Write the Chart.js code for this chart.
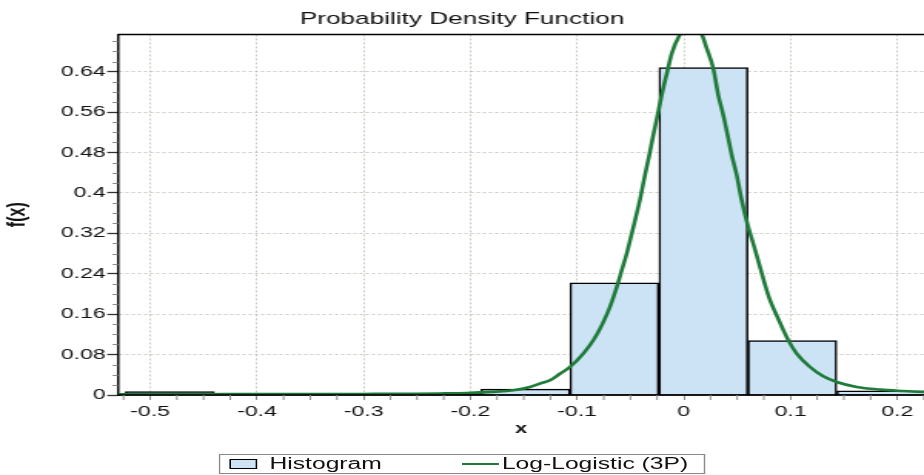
<!DOCTYPE html>
<html>
<head>
<title>Probability Density Function</title>
<script src="https://cdn.jsdelivr.net/npm/chart.js@4"></script>
<style>
  html, body { margin: 0; padding: 0; background: #fff; overflow: hidden; }
  /* the reference is drawn narrow and stretched sideways, so do the same */
  #wrap { position: relative; width: 600px; height: 475px; transform: scaleX(1.54); transform-origin: 0 0; }
  #legend { position: absolute; left: 142px; top: 454px; width: 316px; height: 20px; box-sizing: border-box;
            border: 1px solid #8a8a8a; display: flex; align-items: center; padding-left: 6px;
            font: 16px "Liberation Sans", Arial, sans-serif; color: #111; white-space: nowrap; }
  #legend .item { display: flex; align-items: center; }
  #legend .item + .item { margin-left: 52px; }
</style>
</head>
<body>
<div id="wrap">
    <canvas id="pdf" width="600" height="475"></canvas>
    <div id="legend"></div>
</div>
<script>
    const FONT = '"Liberation Sans", Arial, sans-serif';

    // histogram: bin centres (bin width 0.0833) and heights
    const binCenters = [-0.4816, -0.3983, -0.3149, -0.2316, -0.1483, -0.0650, 0.0184, 0.1017, 0.1851];
    const histValues = [0.0069, 0, 0, 0, 0.0115, 0.222, 0.648, 0.1078, 0.0082];

    // fitted Log-Logistic (3P) curve
    const curveX = [-0.530, -0.45, -0.37, -0.30, -0.25, -0.2285, -0.2035, -0.180, -0.1598, -0.1441,
                    -0.1348, -0.1254, -0.1160, -0.1067, -0.0942, -0.0848, -0.0769, -0.0692, -0.0623, -0.0582,
                    -0.0535, -0.0488, -0.0457, -0.0410, -0.0364, -0.0323, -0.0286, -0.0239, -0.0207, -0.0155,
                    -0.0113, -0.0036, 0.0060, 0.0168, 0.0215, 0.0276, 0.0323, 0.0370, 0.0417, 0.0449,
                    0.0496, 0.0540, 0.0604, 0.0651, 0.0714, 0.0799, 0.0883, 0.0980, 0.1058, 0.1183,
                    0.1307, 0.1433, 0.1620, 0.1839, 0.2057, 0.2251];
    const curveY = [0.0015, 0.0016, 0.0018, 0.0021, 0.0025, 0.0030, 0.0040, 0.0062, 0.0093, 0.0158,
                    0.0226, 0.0291, 0.0420, 0.0554, 0.0819, 0.1082, 0.1379, 0.1741, 0.2171, 0.2467,
                    0.2798, 0.3193, 0.3457, 0.3872, 0.4353, 0.4749, 0.5144, 0.5607, 0.5936, 0.6399,
                    0.6761, 0.7137, 0.740, 0.7137, 0.686, 0.6464, 0.5936, 0.554, 0.5079, 0.4749,
                    0.4353, 0.388, 0.3324, 0.2996, 0.2533, 0.193, 0.1518, 0.1082, 0.0819, 0.0554,
                    0.0370, 0.0257, 0.0158, 0.0107, 0.0079, 0.0059];

    const xTicks = [-0.5, -0.4, -0.3, -0.2, -0.1, 0, 0.1, 0.2];
    const yTicks = [0, 0.08, 0.16, 0.24, 0.32, 0.4, 0.48, 0.56, 0.64];
    const xRange = [-0.5302, 0.2251];
    const yRange = [0, 0.7137];
    const xMinorStep = 0.025, yMinorStep = 0.02;

    const gridColor = 'rgba(185,180,170,0.7)';

    // top frame line, bottom axis redrawn over the bars, minor tick marks
    const frame = {
        id: 'frame',
        afterDatasetsDraw(chart) {
            const { ctx, chartArea: a } = chart;
            ctx.save();
            ctx.strokeStyle = '#000';
            ctx.lineWidth = 1.5;
            ctx.beginPath();
            ctx.moveTo(a.left, a.top); ctx.lineTo(a.right, a.top);
            ctx.moveTo(a.left, a.bottom); ctx.lineTo(a.right, a.bottom);
            ctx.stroke();
            ctx.restore();
        },
        afterDraw(chart) {
            const { ctx, chartArea: a, scales: { x, y } } = chart;
            ctx.save();
            ctx.strokeStyle = '#8c8c8c';
            ctx.lineWidth = 1;
            ctx.beginPath();
            for (let i = 1; i * yMinorStep <= y.max; i++) {
                if (i % 4 === 0) continue;
                const py = Math.round(y.getPixelForValue(i * yMinorStep)) + 0.5;
                ctx.moveTo(a.left - 3.5, py); ctx.lineTo(a.left, py);
            }
            for (let i = Math.ceil(x.min / xMinorStep); i * xMinorStep <= x.max; i++) {
                if (i % 4 === 0) continue;
                const px = x.getPixelForValue(i * xMinorStep);
                ctx.moveTo(px, a.bottom); ctx.lineTo(px, a.bottom + 5);
            }
            ctx.stroke();
            ctx.restore();
        }
    };

    const chart = new Chart(document.getElementById('pdf'), {
        type: 'bar',
        data: {
            datasets: [
                {
                    type: 'bar',
                    label: 'Histogram',
                    data: binCenters.map((x, i) => ({ x: x, y: histValues[i] || null })),
                    backgroundColor: '#cce3f5',
                    borderColor: '#000',
                    borderWidth: 1.5,
                    barPercentage: 1,
                    categoryPercentage: 1,
                    order: 1
                },
                {
                    type: 'line',
                    label: 'Log-Logistic (3P)',
                    data: curveX.map((x, i) => ({ x: x, y: curveY[i] })),
                    borderColor: '#1f7b3a',
                    borderWidth: 2.6,
                    pointRadius: 0,
                    cubicInterpolationMode: 'monotone',
                    fill: false,
                    order: 0
                }
            ]
        },
        options: {
            responsive: false,
            animation: false,
            layout: { padding: { left: 0, right: 0, top: 0, bottom: 33 } },
            plugins: {
                legend: { display: false },
                tooltip: { enabled: false },
                title: {
                    display: true,
                    text: 'Probability Density Function',
                    color: '#111',
                    font: { family: FONT, size: 17, weight: 'normal' },
                    padding: { top: 9, bottom: 5 }
                }
            },
            scales: {
                x: {
                    type: 'linear',
                    min: xRange[0], max: xRange[1],
                    offset: false,
                    afterBuildTicks: s => { s.ticks = xTicks.map(v => ({ value: v })); },
                    afterFit: s => { s.height = 47; },
                    ticks: { color: '#111', font: { family: FONT, size: 15 }, padding: 3,
                             maxRotation: 0, autoSkip: false, callback: v => String(v) },
                    grid: { offset: false, color: gridColor, lineWidth: 1, tickColor: '#8c8c8c', tickLength: 5 },
                    border: { color: '#000', width: 1.5, dash: [2, 2] },
                    title: { display: true, text: 'x', color: '#111',
                             font: { family: FONT, size: 14, weight: 'bold' }, padding: { top: 0, bottom: 4 } }
                },
                y: {
                    min: yRange[0], max: yRange[1],
                    afterBuildTicks: s => { s.ticks = yTicks.map(v => ({ value: v })); },
                    afterFit: s => { s.width = 76.6; },
                    ticks: { color: '#111', font: { family: FONT, size: 15 }, padding: 1, callback: v => String(v) },
                    grid: { color: gridColor, lineWidth: 1, tickColor: '#333', tickWidth: 1.3, tickLength: 7 },
                    border: { color: '#000', width: 1.5, dash: [2, 2] },
                    title: { display: true, text: 'f(x)', color: '#111',
                             font: { family: FONT, size: 16, weight: 'bold' }, padding: { top: 2, bottom: 0 } }
                }
            }
        },
        plugins: [frame]
    });

    // html legend built from the datasets
    function buildLegend(chart) {
        const box = document.getElementById('legend');
        box.innerHTML = '';
        chart.data.datasets.forEach(ds => {
            const item = document.createElement('span');
            item.className = 'item';
            const sw = document.createElement('span');
            if (ds.type === 'bar') {
                sw.style.cssText = `display:inline-block;box-sizing:border-box;width:18px;height:10px;margin-right:8px;` +
                                   `background:${ds.backgroundColor};border:1.3px solid ${ds.borderColor};`;
            } else {
                sw.style.cssText = `display:inline-block;width:24px;height:0;margin-right:2px;` +
                                   `border-top:${ds.borderWidth}px solid ${ds.borderColor};`;
            }
            const txt = document.createElement('span');
            txt.textContent = ds.label;
            item.appendChild(sw);
            item.appendChild(txt);
            box.appendChild(item);
        });
    }
    buildLegend(chart);
</script>
</body>
</html>
